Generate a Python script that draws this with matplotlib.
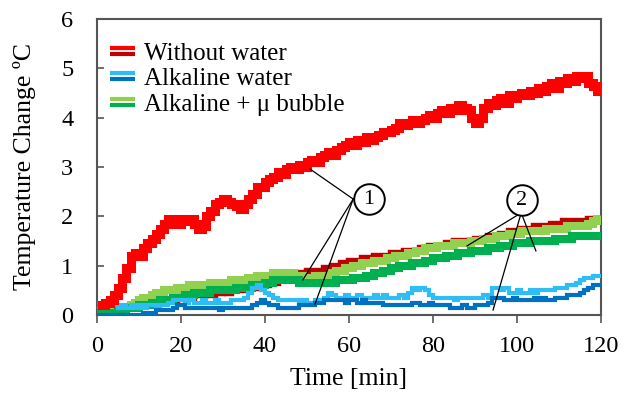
import numpy as np
import matplotlib
matplotlib.use("Agg")
import matplotlib.pyplot as plt
from matplotlib.lines import Line2D
from matplotlib.legend_handler import HandlerBase

plt.rcParams['font.family'] = ['Liberation Serif', 'DejaVu Serif']

# ---------------- data (°C change, 1-min samples) ----------------
time_min = list(range(0, 121))

without_water_a = [  # bright red
    0.20, 0.20, 0.25, 0.30, 0.40, 0.55, 0.75, 0.95, 1.20, 1.25,
    1.20, 1.35, 1.45, 1.55, 1.65, 1.75, 1.85, 1.95, 1.90, 1.85,
    1.95, 1.90, 1.95, 1.85, 1.75, 1.80, 2.00, 2.10, 2.25, 2.30,
    2.35, 2.30, 2.25, 2.20, 2.15, 2.25, 2.35, 2.45, 2.60, 2.60,
    2.70, 2.75, 2.80, 2.90, 2.85, 2.95, 3.00, 2.95, 3.05, 3.00,
    3.10, 3.15, 3.10, 3.20, 3.25, 3.30, 3.25, 3.35, 3.40, 3.45,
    3.50, 3.45, 3.55, 3.50, 3.60, 3.55, 3.60, 3.65, 3.70, 3.70,
    3.75, 3.80, 3.90, 3.85, 3.90, 3.95, 3.90, 3.95, 4.00, 4.05,
    4.00, 4.10, 4.15, 4.10, 4.20, 4.15, 4.25, 4.20, 4.15, 4.00,
    3.90, 4.00, 4.20, 4.30, 4.25, 4.35, 4.40, 4.30, 4.45, 4.40,
    4.45, 4.50, 4.45, 4.55, 4.50, 4.60, 4.55, 4.65, 4.70, 4.60,
    4.75, 4.70, 4.80, 4.75, 4.85, 4.80, 4.85, 4.70, 4.65, 4.55,
    4.45]

without_water_b = [  # dark red
    0.10, 0.10, 0.10, 0.10, 0.10, 0.10, 0.15, 0.15, 0.20, 0.20,
    0.20, 0.20, 0.25, 0.25, 0.25, 0.30, 0.30, 0.30, 0.30, 0.35,
    0.35, 0.35, 0.35, 0.40, 0.40, 0.40, 0.45, 0.40, 0.45, 0.45,
    0.50, 0.45, 0.50, 0.50, 0.50, 0.55, 0.55, 0.55, 0.60, 0.60,
    0.60, 0.65, 0.65, 0.70, 0.70, 0.75, 0.75, 0.80, 0.85, 0.85,
    0.90, 0.90, 0.90, 0.90, 0.95, 0.95, 1.00, 1.00, 1.05, 1.05,
    1.10, 1.10, 1.10, 1.15, 1.15, 1.15, 1.20, 1.20, 1.20, 1.20,
    1.25, 1.25, 1.25, 1.30, 1.30, 1.30, 1.30, 1.35, 1.35, 1.40,
    1.40, 1.40, 1.40, 1.45, 1.45, 1.50, 1.50, 1.50, 1.50, 1.50,
    1.55, 1.55, 1.55, 1.60, 1.60, 1.60, 1.65, 1.65, 1.70, 1.70,
    1.70, 1.75, 1.75, 1.75, 1.80, 1.80, 1.80, 1.80, 1.85, 1.85,
    1.85, 1.90, 1.90, 1.90, 1.90, 1.90, 1.90, 1.95, 1.90, 1.95,
    1.90]

alkaline_a = [  # light blue
    0.25, 0.20, 0.25, 0.20, 0.20, 0.15, 0.20, 0.15, 0.20, 0.15,
    0.20, 0.15, 0.20, 0.20, 0.15, 0.20, 0.20, 0.25, 0.30, 0.30,
    0.30, 0.25, 0.30, 0.25, 0.25, 0.30, 0.25, 0.25, 0.30, 0.25,
    0.25, 0.25, 0.30, 0.30, 0.30, 0.35, 0.45, 0.55, 0.60, 0.50,
    0.45, 0.40, 0.35, 0.30, 0.30, 0.30, 0.30, 0.30, 0.25, 0.30,
    0.25, 0.25, 0.30, 0.30, 0.35, 0.45, 0.40, 0.35, 0.35, 0.40,
    0.35, 0.35, 0.40, 0.35, 0.35, 0.35, 0.40, 0.35, 0.40, 0.35,
    0.35, 0.35, 0.40, 0.35, 0.45, 0.55, 0.50, 0.55, 0.50, 0.40,
    0.35, 0.35, 0.35, 0.35, 0.35, 0.30, 0.35, 0.35, 0.35, 0.35,
    0.35, 0.35, 0.40, 0.35, 0.55, 0.55, 0.50, 0.55, 0.45, 0.45,
    0.50, 0.45, 0.45, 0.50, 0.45, 0.50, 0.50, 0.50, 0.50, 0.55,
    0.55, 0.55, 0.60, 0.60, 0.65, 0.70, 0.75, 0.75, 0.80, 0.80,
    0.75]

alkaline_b = [  # dark blue
    0.00, 0.00, 0.00, 0.00, 0.00, 0.00, 0.00, 0.00, 0.00, 0.00,
    0.00, 0.05, 0.05, 0.05, 0.10, 0.10, 0.10, 0.10, 0.15, 0.20,
    0.20, 0.15, 0.15, 0.15, 0.15, 0.15, 0.15, 0.15, 0.15, 0.10,
    0.15, 0.15, 0.15, 0.15, 0.15, 0.15, 0.15, 0.20, 0.25, 0.30,
    0.25, 0.20, 0.20, 0.15, 0.15, 0.15, 0.15, 0.15, 0.20, 0.20,
    0.20, 0.20, 0.25, 0.25, 0.30, 0.30, 0.30, 0.30, 0.30, 0.25,
    0.30, 0.30, 0.25, 0.30, 0.25, 0.25, 0.25, 0.25, 0.20, 0.20,
    0.20, 0.20, 0.20, 0.20, 0.20, 0.25, 0.25, 0.20, 0.20, 0.25,
    0.20, 0.20, 0.20, 0.20, 0.15, 0.15, 0.15, 0.20, 0.15, 0.15,
    0.20, 0.20, 0.20, 0.25, 0.35, 0.35, 0.35, 0.30, 0.30, 0.35,
    0.30, 0.30, 0.30, 0.30, 0.35, 0.30, 0.35, 0.30, 0.30, 0.35,
    0.35, 0.35, 0.40, 0.40, 0.40, 0.45, 0.50, 0.55, 0.60, 0.60,
    0.60]

bubble_a = [  # light green
    0.10, 0.10, 0.10, 0.10, 0.10, 0.10, 0.15, 0.15, 0.20, 0.25,
    0.30, 0.35, 0.35, 0.40, 0.45, 0.45, 0.50, 0.50, 0.50, 0.55,
    0.55, 0.55, 0.60, 0.60, 0.60, 0.60, 0.60, 0.65, 0.60, 0.65,
    0.65, 0.65, 0.70, 0.65, 0.70, 0.70, 0.75, 0.75, 0.80, 0.75,
    0.80, 0.80, 0.85, 0.85, 0.80, 0.85, 0.85, 0.80, 0.80, 0.75,
    0.75, 0.75, 0.80, 0.75, 0.80, 0.80, 0.85, 0.90, 0.90, 0.95,
    0.95, 1.00, 1.00, 1.05, 1.05, 1.05, 1.10, 1.10, 1.10, 1.15,
    1.15, 1.20, 1.20, 1.20, 1.25, 1.25, 1.30, 1.30, 1.35, 1.35,
    1.35, 1.40, 1.40, 1.40, 1.40, 1.45, 1.45, 1.45, 1.45, 1.50,
    1.50, 1.50, 1.55, 1.55, 1.55, 1.60, 1.60, 1.60, 1.65, 1.65,
    1.65, 1.70, 1.70, 1.70, 1.70, 1.70, 1.70, 1.75, 1.75, 1.75,
    1.75, 1.75, 1.80, 1.80, 1.80, 1.80, 1.80, 1.85, 1.90, 1.95,
    2.00]

bubble_b = [  # dark green
    0.05, 0.05, 0.05, 0.05, 0.05, 0.10, 0.10, 0.15, 0.15, 0.15,
    0.20, 0.20, 0.20, 0.25, 0.25, 0.30, 0.30, 0.30, 0.35, 0.35,
    0.35, 0.40, 0.40, 0.45, 0.45, 0.45, 0.45, 0.50, 0.50, 0.50,
    0.50, 0.50, 0.50, 0.55, 0.55, 0.55, 0.55, 0.60, 0.60, 0.60,
    0.65, 0.65, 0.70, 0.70, 0.70, 0.70, 0.70, 0.70, 0.65, 0.65,
    0.65, 0.65, 0.65, 0.65, 0.65, 0.65, 0.65, 0.70, 0.70, 0.70,
    0.70, 0.75, 0.75, 0.75, 0.80, 0.80, 0.85, 0.85, 0.90, 0.90,
    0.95, 0.95, 1.00, 1.00, 1.00, 1.05, 1.05, 1.05, 1.10, 1.10,
    1.15, 1.15, 1.15, 1.20, 1.20, 1.20, 1.25, 1.25, 1.25, 1.30,
    1.30, 1.30, 1.30, 1.35, 1.35, 1.35, 1.40, 1.40, 1.40, 1.45,
    1.45, 1.45, 1.45, 1.50, 1.50, 1.50, 1.50, 1.50, 1.50, 1.55,
    1.55, 1.55, 1.55, 1.60, 1.60, 1.60, 1.60, 1.60, 1.60, 1.60,
    1.60]

legend_labels = ["Without water", "Alkaline water", "Alkaline + \u03bc bubble"]
x_ticks = [0, 20, 40, 60, 80, 100, 120]
y_ticks = [0, 1, 2, 3, 4, 5, 6]

# annotation callouts: (label, circle centre, convergence point, targets)
callouts = [
    ("1", (64.8, 2.35), (61.0, 2.35), [(50.7, 2.96), (49.0, 0.71), (51.9, 0.22)]),
    ("2", (101.2, 2.33), (101.0, 2.07), [(88.1, 1.40), (104.5, 1.30), (94.3, 0.10)]),
]

# ---------------- colours ----------------
C_RED, C_DRED = "#FF0000", "#C00000"
C_LBLUE, C_DBLUE = "#2EBDF5", "#0070C0"
C_LGREEN, C_DGREEN = "#92D050", "#00B050"

W, H = 629, 397
fig = plt.figure(figsize=(W / 100, H / 100), dpi=100)
ax = fig.add_axes([97 / W, 1 - 315 / H, 504 / W, 296 / H])

t = np.array(time_min)
kw = dict(drawstyle="steps-post", solid_joinstyle="miter", solid_capstyle="butt")
ax.plot(t, without_water_b, color=C_DRED, lw=4.6, zorder=2, **kw)
ax.plot(t, bubble_a, color=C_LGREEN, lw=5.8, zorder=3, **kw)
ax.plot(t, bubble_b, color=C_DGREEN, lw=5.8, zorder=4, **kw)
ax.plot(t, alkaline_a, color=C_LBLUE, lw=3.0, zorder=5, **kw)
ax.plot(t, alkaline_b, color=C_DBLUE, lw=3.0, zorder=6, **kw)
ax.plot(t, without_water_a, color=C_RED, lw=6.5, zorder=7, **kw)

for lab, (cx, cy), (vx, vy), targets in callouts:
    for (tx, ty) in targets:
        ax.plot([vx, tx], [vy, ty], color="black", lw=0.9, zorder=8)
    ax.plot([cx], [cy], marker="o", ms=22, mfc="white", mec="black", mew=1.4,
            zorder=9, clip_on=False)
    ax.text(cx, cy, lab, ha="center", va="center", fontsize=16, zorder=10)

ax.set_xlim(0, 120)
ax.set_ylim(0, 6)
ax.set_xticks(x_ticks)
ax.set_yticks(y_ticks)
ax.tick_params(axis="x", direction="out", length=6, width=1.2, color="#555555",
               labelsize=17.5, pad=9)
ax.tick_params(axis="y", direction="in", length=5, width=1.2, color="#555555",
               labelsize=17.5, pad=17)
for sp in ax.spines.values():
    sp.set_color("#555555")
    sp.set_linewidth(1.5)

ax.set_xlabel("Time [min]", fontsize=18.5)
ax.set_ylabel("Temperature Change \u00baC", fontsize=18.5)
ax.xaxis.set_label_coords(0.5, -0.18)
ax.yaxis.set_label_coords(-0.122, 0.5)


class Pair:
    def __init__(self, c1, c2):
        self.c1, self.c2 = c1, c2


class DoubleLineHandler(HandlerBase):
    def create_artists(self, legend, orig_handle, xdescent, ydescent, width,
                       height, fontsize, trans):
        y = height / 2 - ydescent
        x0, x1 = -xdescent, -xdescent + width
        l1 = Line2D([x0, x1], [y + 2.2, y + 2.2], color=orig_handle.c1, lw=3.0,
                    transform=trans, solid_capstyle="butt")
        l2 = Line2D([x0, x1], [y - 2.2, y - 2.2], color=orig_handle.c2, lw=3.0,
                    transform=trans, solid_capstyle="butt")
        return [l1, l2]


handles = [Pair(C_RED, C_DRED), Pair(C_LBLUE, C_DBLUE), Pair(C_LGREEN, C_DGREEN)]
ax.legend(handles, legend_labels, handler_map={Pair: DoubleLineHandler()},
          loc="upper left", bbox_to_anchor=((110 - 97) / 504, 1 - (42 - 19) / 296),
          frameon=False, fontsize=18, borderpad=0, borderaxespad=0,
          handlelength=1.0, handletextpad=0.35, labelspacing=0.12)

fig.savefig("out.png", dpi=100)
